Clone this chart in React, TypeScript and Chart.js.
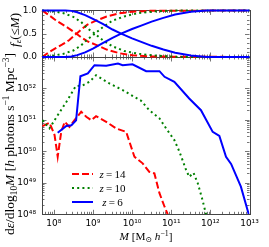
import { useEffect, useRef } from "react";
import { Chart, registerables } from "chart.js";
Chart.register(...registerables);

// ---------- data ----------
const redshifts = [14, 10, 6];
const xMin = 5e7;
const xMax = 1e13;
const epsMin = 1e48;
const epsMax = 1e53;
const xTickExps = [8, 9, 10, 11, 12, 13];
const epsTickExps = [48, 49, 50, 51, 52];
const fracTicks = [0, 0.5, 1];
const fracMinorTicks = [0.1, 0.2, 0.3, 0.4, 0.6, 0.7, 0.8, 0.9];

// bottom panel: log10 M  and  log10 (dε/dlog10 M)
const z14LogM = [7.71, 7.89, 8.02, 8.1, 8.19, 8.28, 8.4, 8.53, 8.7, 8.83, 8.96, 9.08, 9.34, 9.59, 9.85, 10.06, 10.27, 10.44, 10.57, 10.7, 10.83, 10.91];
const z14LogEps = [50.8, 50.91, 50.52, 49.83, 50.62, 50.94, 50.78, 50.99, 51.26, 51.1, 50.99, 51.12, 50.94, 50.73, 50.62, 49.83, 49.62, 49.35, 49.3, 48.67, 48.24, 48.0];
const z10LogM = [7.71, 7.89, 8.1, 8.32, 8.56, 8.74, 8.91, 9.08, 9.42, 9.76, 10.06, 10.23, 10.44, 10.7, 10.87, 11.08, 11.21, 11.38, 11.46, 11.57, 11.68, 11.8, 11.89];
const z10LogEps = [50.99, 50.73, 51.15, 51.57, 52.07, 52.1, 52.21, 52.42, 52.16, 51.95, 51.73, 51.61, 51.31, 51.05, 50.73, 50.36, 49.99, 49.41, 49.19, 49.32, 48.98, 48.45, 48.0];
const z6LogM = [8.1, 8.32, 8.45, 8.57, 8.68, 8.87, 9.04, 9.34, 9.64, 9.76, 10.01, 10.36, 10.7, 10.83, 11.08, 11.46, 11.76, 12.06, 12.23, 12.4, 12.53, 12.78, 12.98];
const z6LogEps = [50.59, 50.81, 50.83, 50.99, 52.39, 52.48, 52.74, 52.72, 52.79, 52.74, 52.77, 52.55, 52.55, 52.37, 52.21, 51.68, 51.31, 50.62, 50.49, 49.83, 49.6, 48.88, 48.0];

// top panel: cumulative fractions f(<=M) and f(>=M)
const z14FracLogM = [7.7, 7.875, 8.05, 8.22, 8.39, 8.51, 8.58, 8.7, 8.85, 9.08, 9.35, 9.68, 10.0, 10.45, 13.0];
const z14Below = [0.0, 0.1, 0.19, 0.27, 0.36, 0.45, 0.5, 0.59, 0.69, 0.78, 0.87, 0.94, 0.97, 0.99, 1.0];
const z14Above = [1.0, 0.9, 0.79, 0.7, 0.61, 0.54, 0.5, 0.42, 0.34, 0.26, 0.16, 0.08, 0.04, 0.01, 0.0];
const z10FracLogM = [7.7, 8.0, 8.25, 8.5, 8.7, 8.85, 9.05, 9.25, 9.5, 9.8, 10.15, 10.6, 11.2, 13.0];
const z10Below = [0.01, 0.03, 0.07, 0.14, 0.25, 0.37, 0.5, 0.64, 0.78, 0.87, 0.94, 0.98, 1.0, 1.0];
const z10Above = [1.0, 0.98, 0.94, 0.86, 0.75, 0.62, 0.5, 0.36, 0.23, 0.13, 0.07, 0.03, 0.0, 0.0];
const z6FracLogM = [7.7, 8.3, 8.45, 8.6, 8.8, 9.0, 9.25, 9.5, 9.72, 10.0, 10.25, 10.5, 10.8, 11.1, 11.5, 11.9, 13.0];
const z6Below = [0, 0, 0.01, 0.04, 0.1, 0.18, 0.3, 0.41, 0.5, 0.6, 0.68, 0.76, 0.84, 0.91, 0.97, 1.0, 1.0];
const z6Above = [1, 1, 0.99, 0.96, 0.9, 0.82, 0.71, 0.59, 0.5, 0.4, 0.32, 0.24, 0.16, 0.09, 0.03, 0.0, 0.0];

// ---------- styles ----------
const colors = ["#ff0000", "#008000", "#0000ff"];
const dashes = [[7, 3], [2, 3.2], []];
const W = 269;
const H = 247;
const AREA_LEFT = 42;
const AREA_RIGHT = 249.5;
const SPLIT = 57;
const AREA_BOTTOM = 214.3;

const supMap: Record<string, string> = { "0": "⁰", "1": "¹", "2": "²", "3": "³", "4": "⁴", "5": "⁵", "6": "⁶", "7": "⁷", "8": "⁸", "9": "⁹", "-": "⁻" };
const powLabel = (v: number) => {
  const e = Math.round(Math.log10(v));
  return "10" + String(e).split("").map((c) => supMap[c]).join("");
};

type Seg = { t: string; it?: boolean; sup?: boolean; sub?: boolean };
function drawRich(ctx: CanvasRenderingContext2D, segs: Seg[], x: number, y: number, size: number, rotate: boolean, target?: number) {
  const fam = '"Liberation Serif", "DejaVu Serif", serif';
  const fontFor = (s: Seg, sz: number) => `${s.it ? "italic " : ""}${s.sup || s.sub ? sz * 0.7 : sz}px ${fam}`;
  const measure = (sz: number) =>
    segs.reduce((w, s) => {
      ctx.font = fontFor(s, sz);
      return w + ctx.measureText(s.t).width;
    }, 0);
  let sz = size;
  if (target) sz = (size * target) / measure(size);
  const total = measure(sz);
  ctx.save();
  ctx.translate(x, y);
  if (rotate) ctx.rotate(-Math.PI / 2);
  ctx.textBaseline = "alphabetic";
  ctx.textAlign = "left";
  ctx.fillStyle = "#000";
  let cx = -total / 2;
  for (const s of segs) {
    ctx.font = fontFor(s, sz);
    const dy = s.sup ? -0.4 * sz : s.sub ? 0.22 * sz : 0;
    ctx.fillText(s.t, cx, dy);
    cx += ctx.measureText(s.t).width;
  }
  ctx.restore();
}

const xMajorVals = xTickExps.map((e) => Math.pow(10, e));
const logMinors = (lo: number, hi: number) => {
  const out: number[] = [];
  for (let e = Math.floor(Math.log10(lo)); e <= Math.ceil(Math.log10(hi)); e++) {
    for (let k = 2; k <= 9; k++) {
      const v = k * Math.pow(10, e);
      if (v >= lo && v <= hi) out.push(v);
    }
  }
  return out;
};
const xMinorVals = logMinors(xMin, xMax);

function framePlugin(yMajors: number[], yMinors: number[]) {
  return {
    id: "frame",
    beforeDatasetsDraw(chart: any) {
      const { ctx, chartArea: a, scales } = chart;
      const xs = scales.x;
      const ys = scales.y;
      ctx.save();
      ctx.lineWidth = 1;
      ctx.strokeStyle = "#777";
      const tick = (px: number, py: number, dx: number, dy: number) => {
        ctx.beginPath();
        ctx.moveTo(px, py);
        ctx.lineTo(px + dx, py + dy);
        ctx.stroke();
      };
      for (const v of xMajorVals) {
        const p = Math.round(xs.getPixelForValue(v)) + 0.5;
        tick(p, a.bottom, 0, -4.5);
        tick(p, a.top, 0, 4.5);
      }
      for (const v of xMinorVals) {
        const p = Math.round(xs.getPixelForValue(v)) + 0.5;
        tick(p, a.bottom, 0, -2.5);
        tick(p, a.top, 0, 2.5);
      }
      for (const v of yMajors) {
        const p = Math.round(ys.getPixelForValue(v)) + 0.5;
        tick(a.left, p, 4.5, 0);
        tick(a.right, p, -4.5, 0);
      }
      for (const v of yMinors) {
        const p = Math.round(ys.getPixelForValue(v)) + 0.5;
        tick(a.left, p, 2.5, 0);
        tick(a.right, p, -2.5, 0);
      }
      ctx.strokeStyle = "#444";
      ctx.strokeRect(Math.round(a.left) + 0.5, Math.round(a.top) + 0.5, Math.round(a.right - a.left), Math.round(a.bottom - a.top));
      ctx.restore();
    },
  };
}

const tickFont = { family: '"DejaVu Sans", sans-serif', size: 9 };
const orderOf = (i: number) => [2, 1, 0][i];

function lineDs(label: string, logM: number[], vals: number[], i: number, isLog: boolean) {
  return {
    label,
    data: logM.map((m, j) => ({ x: Math.pow(10, m), y: isLog ? Math.pow(10, vals[j]) : vals[j] })),
    borderColor: colors[i],
    backgroundColor: colors[i],
    borderWidth: 2,
    borderDash: dashes[i],
    borderCapStyle: "butt" as const,
    pointRadius: 0,
    fill: false,
    tension: 0,
    order: orderOf(i),
    clip: (isLog ? undefined : false) as any,
  };
}

export default function App() {
  const topRef = useRef<HTMLCanvasElement>(null);
  const botRef = useRef<HTMLCanvasElement>(null);

  useEffect(() => {
    const common: any = {
      responsive: false,
      animation: false,
      devicePixelRatio: 1,
      events: [],
      plugins: { legend: { display: false }, tooltip: { enabled: false }, title: { display: false } },
    };

    const topDatasets: any[] = [];
    const fracSets = [
      [z14FracLogM, z14Below, z14Above],
      [z10FracLogM, z10Below, z10Above],
      [z6FracLogM, z6Below, z6Above],
    ];
    fracSets.forEach(([lm, below, above], i) => {
      topDatasets.push(lineDs(`z=${redshifts[i]} below`, lm, below, i, false));
      topDatasets.push(lineDs(`z=${redshifts[i]} above`, lm, above, i, false));
    });

    const topChart = new Chart(topRef.current!, {
      type: "line",
      data: { datasets: topDatasets },
      options: {
        ...common,
        layout: { padding: { left: 0, right: W - AREA_RIGHT, top: 5, bottom: H - SPLIT } },
        scales: {
          x: { type: "logarithmic", min: xMin, max: xMax, display: false },
          y: {
            type: "linear",
            min: 0,
            max: 1,
            grid: { display: false, drawTicks: false },
            border: { display: false },
            afterBuildTicks: (s: any) => {
              s.ticks = fracTicks.map((v) => ({ value: v }));
            },
            afterFit: (s: any) => {
              s.width = AREA_LEFT;
            },
            ticks: { font: tickFont, color: "#000", padding: 5, callback: (v: any) => Number(v).toFixed(1) },
          },
        },
      },
      plugins: [
        framePlugin(fracTicks, fracMinorTicks),
        {
          id: "topTitle",
          afterDraw(chart: any) {
            drawRich(chart.ctx, [{ t: "f", it: true }, { t: "ε", it: true, sub: true }, { t: "(≤" }, { t: "M", it: true }, { t: ")" }], 18.5, 30, 11, true, 34);
          },
        },
      ],
    } as any);

    const botSets = [
      [z14LogM, z14LogEps],
      [z10LogM, z10LogEps],
      [z6LogM, z6LogEps],
    ];
    const botDatasets = botSets.map(([lm, le], i) => lineDs(`z=${redshifts[i]}`, lm, le, i, true));

    const botChart = new Chart(botRef.current!, {
      type: "line",
      data: { datasets: botDatasets },
      options: {
        ...common,
        layout: { padding: { left: 0, right: W - AREA_RIGHT, top: SPLIT, bottom: 0 } },
        scales: {
          x: {
            type: "logarithmic",
            min: xMin,
            max: xMax,
            grid: { display: false, drawTicks: false },
            border: { display: false },
            afterBuildTicks: (s: any) => {
              s.ticks = xMajorVals.map((v) => ({ value: v }));
            },
            afterFit: (s: any) => {
              s.height = H - AREA_BOTTOM;
            },
            ticks: { font: tickFont, color: "#000", padding: 4, autoSkip: false, maxRotation: 0, callback: (v: any) => powLabel(Number(v)) },
          },
          y: {
            type: "logarithmic",
            min: epsMin,
            max: epsMax,
            grid: { display: false, drawTicks: false },
            border: { display: false },
            afterBuildTicks: (s: any) => {
              s.ticks = epsTickExps.map((e) => ({ value: Math.pow(10, e) }));
            },
            afterFit: (s: any) => {
              s.width = AREA_LEFT;
            },
            ticks: { font: tickFont, color: "#000", padding: 6, autoSkip: false, callback: (v: any) => powLabel(Number(v)) },
          },
        },
      },
      plugins: [
        framePlugin(
          [...epsTickExps, 53].map((e) => Math.pow(10, e)),
          logMinors(epsMin, epsMax)
        ),
        {
          id: "botText",
          afterDraw(chart: any) {
            const ctx = chart.ctx as CanvasRenderingContext2D;
            drawRich(
              ctx,
              [
                { t: "d" },
                { t: "ε", it: true },
                { t: "/dlog" },
                { t: "10", sub: true },
                { t: "M", it: true },
                { t: " [" },
                { t: "h", it: true },
                { t: " photons s" },
                { t: "−1", sup: true },
                { t: " Mpc" },
                { t: "−3", sup: true },
                { t: "]" },
              ],
              14,
              144,
              12,
              true,
              182
            );
            drawRich(
              ctx,
              [{ t: "M", it: true }, { t: " [M" }, { t: "⊙", sub: true }, { t: " " }, { t: "h", it: true }, { t: "−1", sup: true }, { t: "]" }],
              146,
              240,
              11,
              false,
              53
            );
            const rows = [174, 188, 202];
            rows.forEach((ry, i) => {
              ctx.save();
              ctx.strokeStyle = colors[i];
              ctx.lineWidth = 2;
              ctx.lineCap = "butt";
              ctx.setLineDash(dashes[i]);
              ctx.beginPath();
              ctx.moveTo(72, ry);
              ctx.lineTo(93, ry);
              ctx.stroke();
              ctx.restore();
              drawRich(ctx, [{ t: "z", it: true }, { t: "\u2009=\u2009" + redshifts[i] }], 112.5, ry + 3.5, 11, false);
            });
          },
        },
      ],
    } as any);

    return () => {
      topChart.destroy();
      botChart.destroy();
    };
  }, []);

  const cstyle: any = { position: "absolute", left: 0, top: 0 };
  return (
    <div style={{ position: "absolute", left: 0, top: 0, width: W, height: H, background: "#fff" }}>
      <canvas ref={botRef} width={W} height={H} style={cstyle} />
      <canvas ref={topRef} width={W} height={H} style={cstyle} />
    </div>
  );
}
